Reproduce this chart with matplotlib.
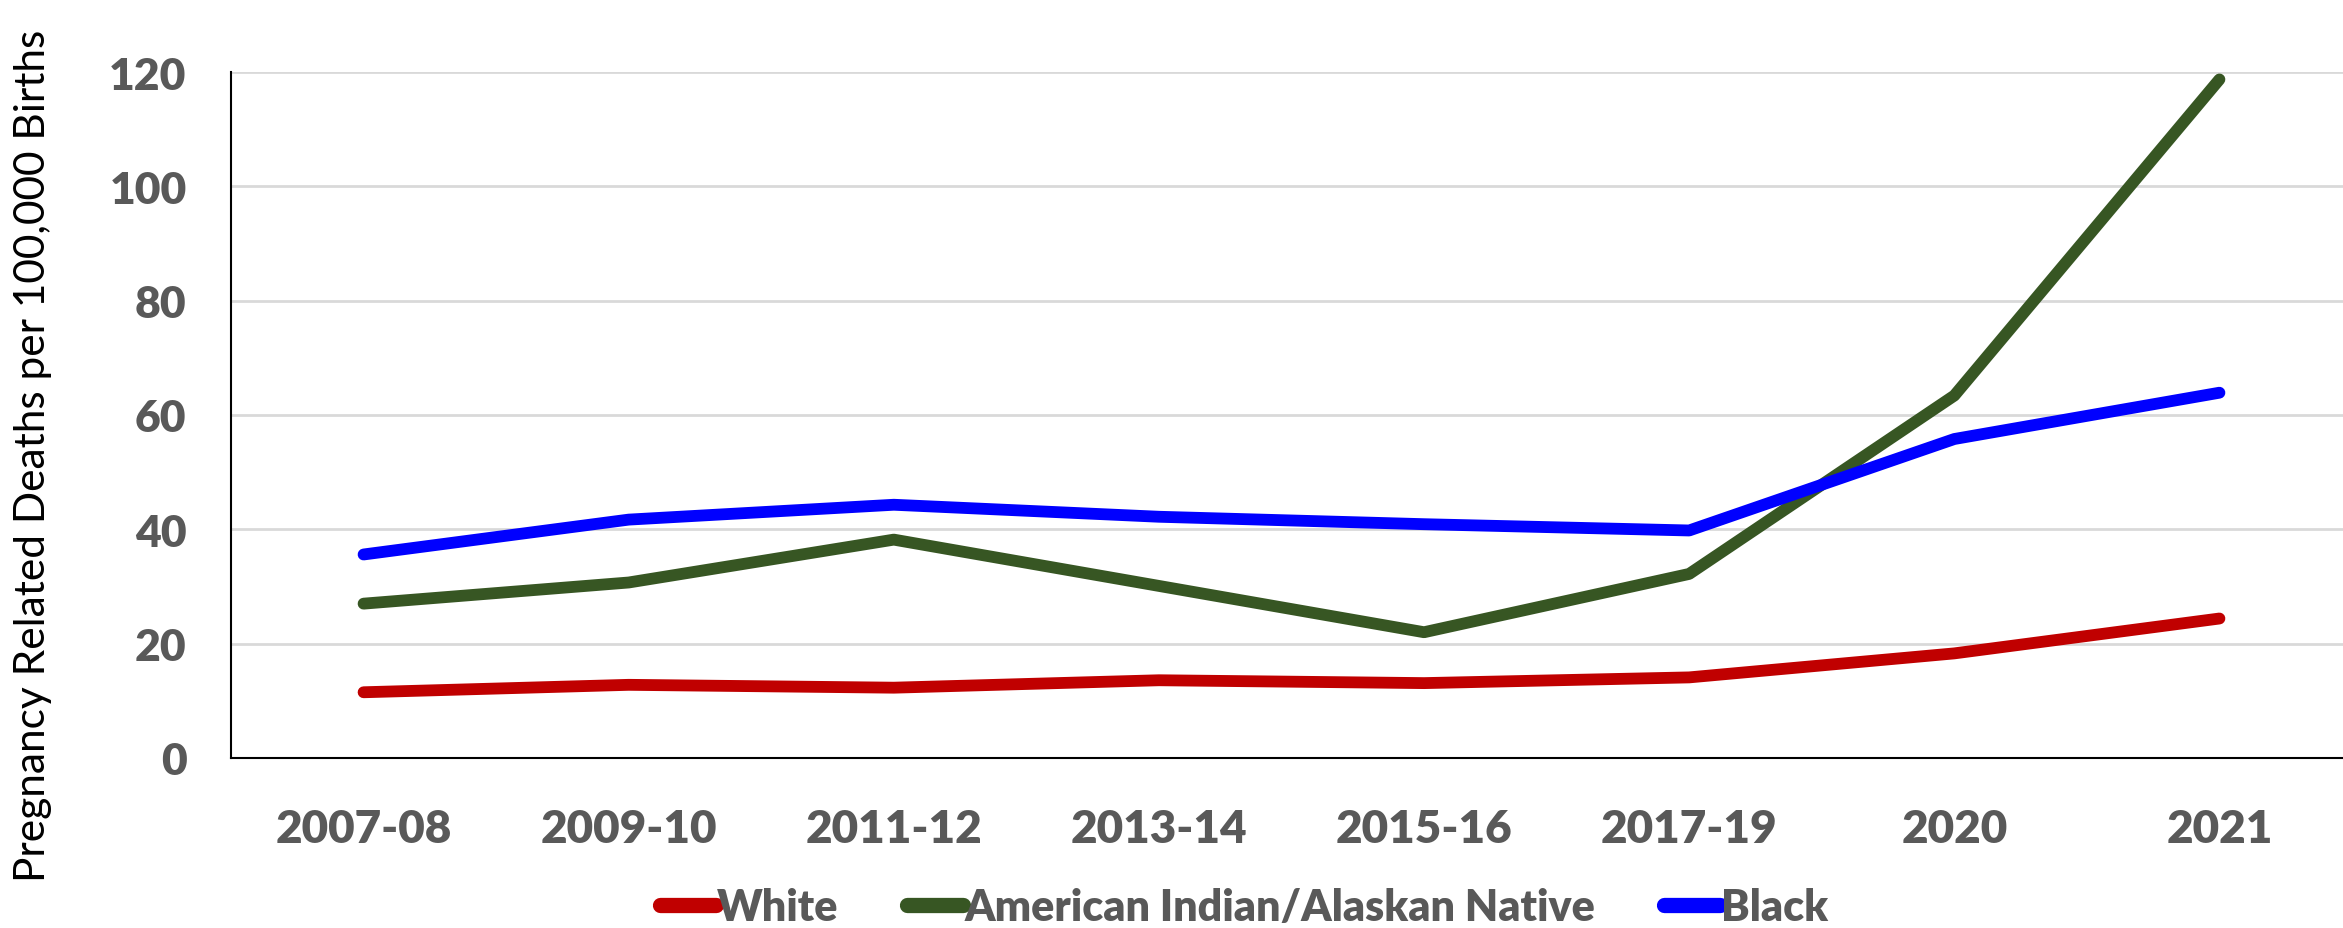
import matplotlib
matplotlib.use("Agg")
import matplotlib.pyplot as plt

categories = ["2007-08", "2009-10", "2011-12", "2013-14", "2015-16", "2017-19", "2020", "2021"]
white = [11.5, 12.8, 12.3, 13.6, 13.1, 14.1, 18.3, 24.4]
aian = [27.0, 30.7, 38.2, 30.1, 22.0, 32.2, 63.4, 118.7]
black = [35.6, 41.7, 44.3, 42.2, 40.9, 39.8, 55.8, 63.9]
series_names = ["White", "American Indian/Alaskan Native", "Black"]
yticks = [0, 20, 40, 60, 80, 100, 120]

W, H = 2343, 929
fig = plt.figure(figsize=(W / 100, H / 100), dpi=100)
ax = fig.add_axes([231 / W, (H - 759) / H, 2121 / W, (759 - 73) / H])

gray = "#595959"
lw = 8.5
x = list(range(len(categories)))
l1, = ax.plot(x, white, color="#C00000", lw=lw, solid_capstyle="round", solid_joinstyle="round")
l2, = ax.plot(x, aian, color="#375623", lw=lw, solid_capstyle="round", solid_joinstyle="round")
l3, = ax.plot(x, black, color="#0000FF", lw=lw, solid_capstyle="round", solid_joinstyle="round")

ax.set_xlim(-0.5, len(categories) - 0.5)
ax.set_ylim(0, 120)
ax.set_yticks(yticks)
ax.set_xticks(x)
ax.set_xticklabels(categories)
ax.grid(axis="y", color="#D9D9D9", lw=2)
ax.set_axisbelow(True)
for s in ["top", "right"]:
    ax.spines[s].set_visible(False)
ax.spines["left"].set_linewidth(1.5)
ax.spines["bottom"].set_linewidth(1.5)
ax.tick_params(axis="both", length=0)
ax.tick_params(axis="x", pad=36)
ax.tick_params(axis="y", pad=32)
for lab in ax.get_xticklabels():
    lab.set_fontfamily("Lato"); lab.set_fontweight("heavy"); lab.set_fontsize(33); lab.set_color(gray)
for lab in ax.get_yticklabels():
    lab.set_fontfamily("Lato"); lab.set_fontweight("heavy"); lab.set_fontsize(32); lab.set_color(gray)

fig.text(33 / W, 1 - 456 / H, "Pregnancy Related Deaths per 100,000 Births", rotation=90,
         ha="center", va="center", fontsize=30.5, family="Lato", color="black")

leg = fig.legend([l1, l2, l3], series_names, loc="center", bbox_to_anchor=(1244 / W, 1 - 908 / H),
                 ncol=3, frameon=False, handlelength=1.3, handletextpad=0.02, columnspacing=1.6,
                 prop=dict(family="Lato", weight="heavy", size=31))
for t in leg.get_texts():
    t.set_color(gray)
for h in leg.legend_handles:
    h.set_linewidth(11)

fig.savefig("out.png", dpi=100)
